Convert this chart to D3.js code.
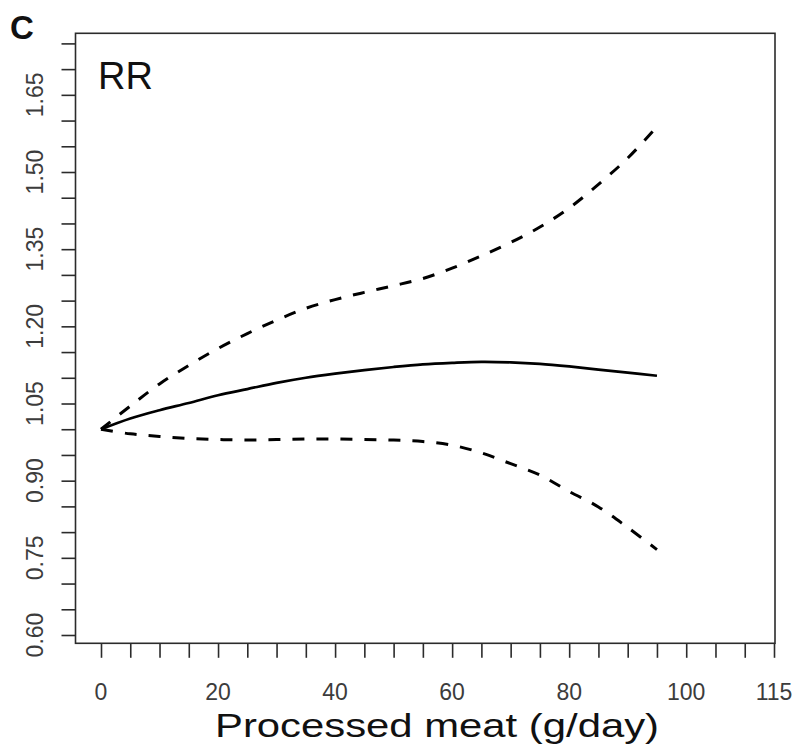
<!DOCTYPE html>
<html>
<head>
<meta charset="utf-8">
<script src="https://cdn.jsdelivr.net/npm/d3@7"></script>
<style>
  html, body { margin: 0; padding: 0; background: #fff; }
  svg { display: block; }
  text { font-family: "Liberation Sans", Arial, Helvetica, sans-serif; }
</style>
</head>
<body>
<svg id="chart" width="793" height="751"></svg>
<script>
// ---- data ----
const doses = [0, 5, 10, 15, 20, 25, 30, 35, 40, 45, 50, 55, 60, 65, 70, 75, 80, 85, 90, 95];
const rr    = [1.000, 1.021, 1.037, 1.051, 1.066, 1.078, 1.090, 1.100, 1.108, 1.115, 1.121, 1.126, 1.129, 1.131, 1.130, 1.127, 1.122, 1.116, 1.110, 1.104];
const upper = [1.000, 1.045, 1.088, 1.124, 1.157, 1.186, 1.212, 1.235, 1.252, 1.266, 1.279, 1.293, 1.313, 1.337, 1.363, 1.393, 1.430, 1.476, 1.527, 1.588];
const lower = [1.000, 0.991, 0.986, 0.982, 0.980, 0.979, 0.980, 0.981, 0.981, 0.980, 0.979, 0.976, 0.969, 0.954, 0.933, 0.911, 0.879, 0.849, 0.809, 0.766];
const xTicks = d3.range(0, 116, 5);
const xTickLabels = [0, 20, 40, 60, 80, 100, 115];
const yTicks = d3.range(0, 24).map(i => +(0.60 + i * 0.05).toFixed(2));
const yTickLabels = [0.60, 0.75, 0.90, 1.05, 1.20, 1.35, 1.50, 1.65];
const panelLabel = "C";
const yLabel = "RR";
const xTitle = "Processed meat (g/day)";

// ---- layout ----
const svg = d3.select("#chart");
const box = { left: 75.5, top: 33.3, right: 775, bottom: 643.3 };
const x = d3.scaleLinear().domain([0, 115]).range([101, 774]);
const y = d3.scaleLinear().domain([0.60, 1.75]).range([635, 43.4]);
const axisColor = "#2b2b2b";
const labelColor = "#3c3c3c";

// box
svg.append("rect")
  .attr("x", box.left).attr("y", box.top)
  .attr("width", box.right - box.left).attr("height", box.bottom - box.top)
  .attr("fill", "none").attr("stroke", axisColor).attr("stroke-width", 1.6);

// y axis ticks
const yAxis = svg.append("g")
  .attr("transform", `translate(${box.left},0)`)
  .call(d3.axisLeft(y).tickValues(yTicks).tickSize(14).tickFormat(""));
yAxis.select(".domain").remove();
yAxis.selectAll(".tick line").attr("stroke", axisColor).attr("stroke-width", 1.6);

svg.append("g").selectAll("text")
  .data(yTickLabels)
  .join("text")
  .attr("transform", d => `translate(43,${y(d)}) rotate(-90)`)
  .attr("text-anchor", "middle")
  .attr("font-size", 23)
  .attr("fill", labelColor)
  .text(d => d.toFixed(2));

// x axis ticks
const xAxis = svg.append("g")
  .attr("transform", `translate(0,${box.bottom})`)
  .call(d3.axisBottom(x).tickValues(xTicks).tickSize(14.5).tickFormat(""));
xAxis.select(".domain").remove();
xAxis.selectAll(".tick line").attr("stroke", axisColor).attr("stroke-width", 1.6);

svg.append("g").selectAll("text")
  .data(xTickLabels)
  .join("text")
  .attr("x", d => x(d))
  .attr("y", 700)
  .attr("text-anchor", "middle")
  .attr("font-size", 23)
  .attr("fill", labelColor)
  .text(d => d);

// x title
svg.append("text")
  .attr("x", 215).attr("y", 737)
  .attr("font-size", 34)
  .attr("textLength", 444)
  .attr("lengthAdjust", "spacingAndGlyphs")
  .attr("fill", "#111")
  .text(xTitle);

// panel label
svg.append("text")
  .attr("x", 10).attr("y", 38.5)
  .attr("font-size", 33).attr("font-weight", "bold")
  .attr("fill", "#111")
  .text(panelLabel);

// RR label
svg.append("text")
  .attr("x", 98).attr("y", 88.5)
  .attr("font-size", 38)
  .attr("fill", "#111")
  .text(yLabel);

// curves
const line = d3.line()
  .x((d, i) => x(doses[i]))
  .y(d => y(d))
  .curve(d3.curveCatmullRom.alpha(0.5));

svg.append("path").datum(upper)
  .attr("d", line).attr("fill", "none")
  .attr("stroke", "#000").attr("stroke-width", 3)
  .attr("stroke-dasharray", "12,12");
svg.append("path").datum(lower)
  .attr("d", line).attr("fill", "none")
  .attr("stroke", "#000").attr("stroke-width", 3)
  .attr("stroke-dasharray", "12,12");
svg.append("path").datum(rr)
  .attr("d", line).attr("fill", "none")
  .attr("stroke", "#000").attr("stroke-width", 2.7);
</script>
</body>
</html>
